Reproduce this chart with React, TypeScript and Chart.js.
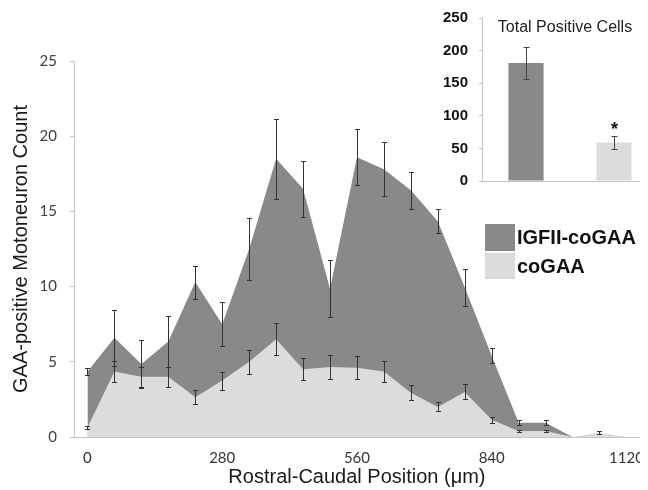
import React, { useEffect, useRef } from 'react';
import { Chart, registerables } from 'chart.js';

Chart.register(...registerables);

// ---- data ----
const positions = [0, 56, 112, 168, 224, 280, 336, 392, 448, 504, 560, 616, 672, 728, 784, 840, 896, 952, 1008, 1064, 1120];
const xTickLabels = ['0', '280', '560', '840', '1120'];
const seriesNames = ['IGFII-coGAA', 'coGAA'];
const igfCounts = [4.35, 6.6, 4.85, 6.35, 10.3, 7.5, 12.5, 18.5, 16.5, 9.85, 18.6, 17.8, 16.4, 14.35, 9.95, 5.4, 0.95, 0.95, 0, 0, 0];
const igfErrors = [0.25, 1.85, 1.6, 1.7, 1.1, 1.45, 2.05, 2.65, 1.85, 1.9, 1.85, 1.8, 1.25, 0.8, 1.25, 0.5, 0.17, 0.17, 0, 0, 0];
const coCounts = [0.63, 4.35, 4.0, 4.0, 2.65, 3.75, 5.0, 6.5, 4.5, 4.65, 4.6, 4.35, 2.95, 2.0, 3.0, 1.15, 0.4, 0.4, 0, 0.3, 0];
const coErrors = [0.13, 0.7, 0.65, 0.65, 0.45, 0.6, 0.8, 1.07, 0.72, 0.77, 0.76, 0.72, 0.5, 0.3, 0.5, 0.2, 0.08, 0.08, 0, 0.1, 0];

const insetTitle = 'Total Positive Cells';
const totalValues = [181, 59];
const totalErrors = [24, 10];
const totalMarks = ['', '*'];

const DARK = '#898989';
const LIGHT = '#dcdcdc';
const AXIS = '#c4c4c4';

const errorBarPlugin = {
  id: 'errorBars',
  afterDatasetsDraw(chart: any) {
    const ctx = chart.ctx;
    const yScale = chart.scales.y;
    chart.data.datasets.forEach((ds: any, di: number) => {
      const errs = ds.errors;
      if (!errs) return;
      const meta = chart.getDatasetMeta(di);
      const cap = ds.capHalf || 2.5;
      ctx.save();
      ctx.strokeStyle = ds.errorColor || '#333';
      ctx.lineWidth = 1;
      meta.data.forEach((el: any, i: number) => {
        const e = errs[i];
        if (!e) return;
        const v = ds.data[i];
        const x = Math.round(el.x) + 0.5;
        const yTop = Math.round(yScale.getPixelForValue(v + e)) + 0.5;
        const yBot = Math.round(yScale.getPixelForValue(Math.max(0, v - e))) + 0.5;
        ctx.beginPath();
        ctx.moveTo(x, yTop);
        ctx.lineTo(x, yBot);
        ctx.moveTo(x - cap, yTop);
        ctx.lineTo(x + cap, yTop);
        ctx.moveTo(x - cap, yBot);
        ctx.lineTo(x + cap, yBot);
        ctx.stroke();
        const mark = ds.marks && ds.marks[i];
        if (mark) {
          ctx.fillStyle = '#111';
          ctx.font = 'bold 18px "Liberation Sans", Arial, sans-serif';
          ctx.textAlign = 'center';
          ctx.textBaseline = 'alphabetic';
          ctx.fillText(mark, x, yTop - 2);
        }
      });
      ctx.restore();
    });
  },
};

export default function App() {
  const mainRef = useRef<HTMLCanvasElement>(null);
  const insetRef = useRef<HTMLCanvasElement>(null);

  useEffect(() => {
    const main = new Chart(mainRef.current as HTMLCanvasElement, {
      type: 'line',
      data: {
        labels: positions.map(String),
        datasets: [
          {
            label: seriesNames[0],
            data: igfCounts,
            errors: igfErrors,
            capHalf: 2.5,
            errorColor: '#333',
            backgroundColor: DARK,
            borderColor: 'rgba(0,0,0,0)',
            borderWidth: 0,
            pointRadius: 0,
            fill: 'origin',
            tension: 0,
            order: 2,
          } as any,
          {
            label: seriesNames[1],
            data: coCounts,
            errors: coErrors,
            capHalf: 2.5,
            errorColor: '#333',
            backgroundColor: LIGHT,
            borderColor: 'rgba(0,0,0,0)',
            borderWidth: 0,
            pointRadius: 0,
            fill: 'origin',
            tension: 0,
            order: 1,
          } as any,
        ],
      },
      options: {
        responsive: false,
        animation: false,
        events: [],
        layout: { padding: { top: 53, right: 7, left: 0, bottom: 0 } },
        plugins: { legend: { display: false }, tooltip: { enabled: false } },
        scales: {
          x: {
            type: 'category',
            offset: true,
            grid: { display: false },
            border: { display: true, color: AXIS, width: 1 },
            ticks: {
              autoSkip: false,
              maxRotation: 0,
              minRotation: 0,
              padding: 4,
              color: '#333',
              font: { family: 'Lato, "Open Sans", sans-serif', size: 15 },
              callback: function (this: any, value: any) {
                const lab = this.getLabelForValue(value);
                return xTickLabels.includes(lab) ? lab : '';
              },
            },
            title: {
              display: true,
              text: 'Rostral-Caudal Position (μm)',
              color: '#1a1a1a',
              font: { family: '"Liberation Sans", Arial, sans-serif', size: 20 },
              padding: { top: 1, bottom: 1 },
            },
            afterFit: (scale: any) => {
              scale.height = 53;
            },
          },
          y: {
            min: 0,
            max: 25,
            grid: { drawOnChartArea: false, drawTicks: true, tickLength: 4, color: AXIS },
            border: { display: true, color: AXIS, width: 1 },
            ticks: {
              stepSize: 5,
              padding: 13,
              color: '#404040',
              font: { family: 'Lato, "Open Sans", sans-serif', size: 15 },
            },
            title: {
              display: true,
              text: 'GAA-positive Motoneuron Count',
              color: '#1a1a1a',
              font: { family: '"Liberation Sans", Arial, sans-serif', size: 20 },
              padding: { top: 1, bottom: 0 },
            },
            afterFit: (scale: any) => {
              scale.width = 66;
            },
          },
        },
      } as any,
      plugins: [errorBarPlugin],
    });

    const inset = new Chart(insetRef.current as HTMLCanvasElement, {
      type: 'bar',
      data: {
        labels: seriesNames,
        datasets: [
          {
            label: insetTitle,
            data: totalValues,
            errors: totalErrors,
            marks: totalMarks,
            capHalf: 3,
            errorColor: '#444',
            backgroundColor: [DARK, LIGHT],
            borderWidth: 0,
            categoryPercentage: 1,
            barPercentage: 0.4,
          } as any,
        ],
      },
      options: {
        responsive: false,
        animation: false,
        events: [],
        layout: { padding: { top: 10, right: 0, left: 0, bottom: 2 } },
        plugins: { legend: { display: false }, tooltip: { enabled: false } },
        scales: {
          x: {
            type: 'category',
            grid: { display: false },
            border: { display: true, color: AXIS, width: 1 },
            ticks: { display: false },
            afterFit: (scale: any) => {
              scale.height = 0;
            },
          },
          y: {
            min: 0,
            max: 250,
            grid: { drawOnChartArea: false, drawTicks: true, tickLength: 3, color: AXIS },
            border: { display: true, color: AXIS, width: 1 },
            ticks: {
              stepSize: 50,
              padding: 11,
              color: '#111',
              font: { family: '"Liberation Sans", Arial, sans-serif', size: 15, weight: 'bold' },
            },
            afterFit: (scale: any) => {
              scale.width = 40;
            },
          },
        },
      } as any,
      plugins: [errorBarPlugin],
    });

    return () => {
      main.destroy();
      inset.destroy();
    };
  }, []);

  const legendText: React.CSSProperties = {
    position: 'absolute',
    left: 509,
    fontFamily: '"Liberation Sans", Arial, sans-serif',
    fontWeight: 'bold',
    fontSize: 20,
    lineHeight: '24px',
    color: '#111',
    whiteSpace: 'nowrap',
  };

  return (
    <div style={{ position: 'relative', width: 640, height: 482, overflow: 'hidden' }}>
      <canvas ref={mainRef} width={640} height={482} style={{ position: 'absolute', left: 0, top: 0 }} />
      <canvas ref={insetRef} width={216} height={203} style={{ position: 'absolute', left: 434, top: -10 }} />
      <div
        style={{
          position: 'absolute',
          left: 557,
          top: 9,
          transform: 'translateX(-50%)',
          fontFamily: '"Liberation Sans", Arial, sans-serif',
          fontSize: 16,
          lineHeight: '19px',
          color: '#222',
          whiteSpace: 'nowrap',
        }}
      >
        {insetTitle}
      </div>
      <div style={{ position: 'absolute', left: 477, top: 216, width: 30, height: 27, background: DARK }} />
      <div style={{ position: 'absolute', left: 477, top: 245, width: 30, height: 26, background: LIGHT }} />
      <div style={{ ...legendText, top: 217 }}>{seriesNames[0]}</div>
      <div style={{ ...legendText, top: 246 }}>{seriesNames[1]}</div>
    </div>
  );
}
